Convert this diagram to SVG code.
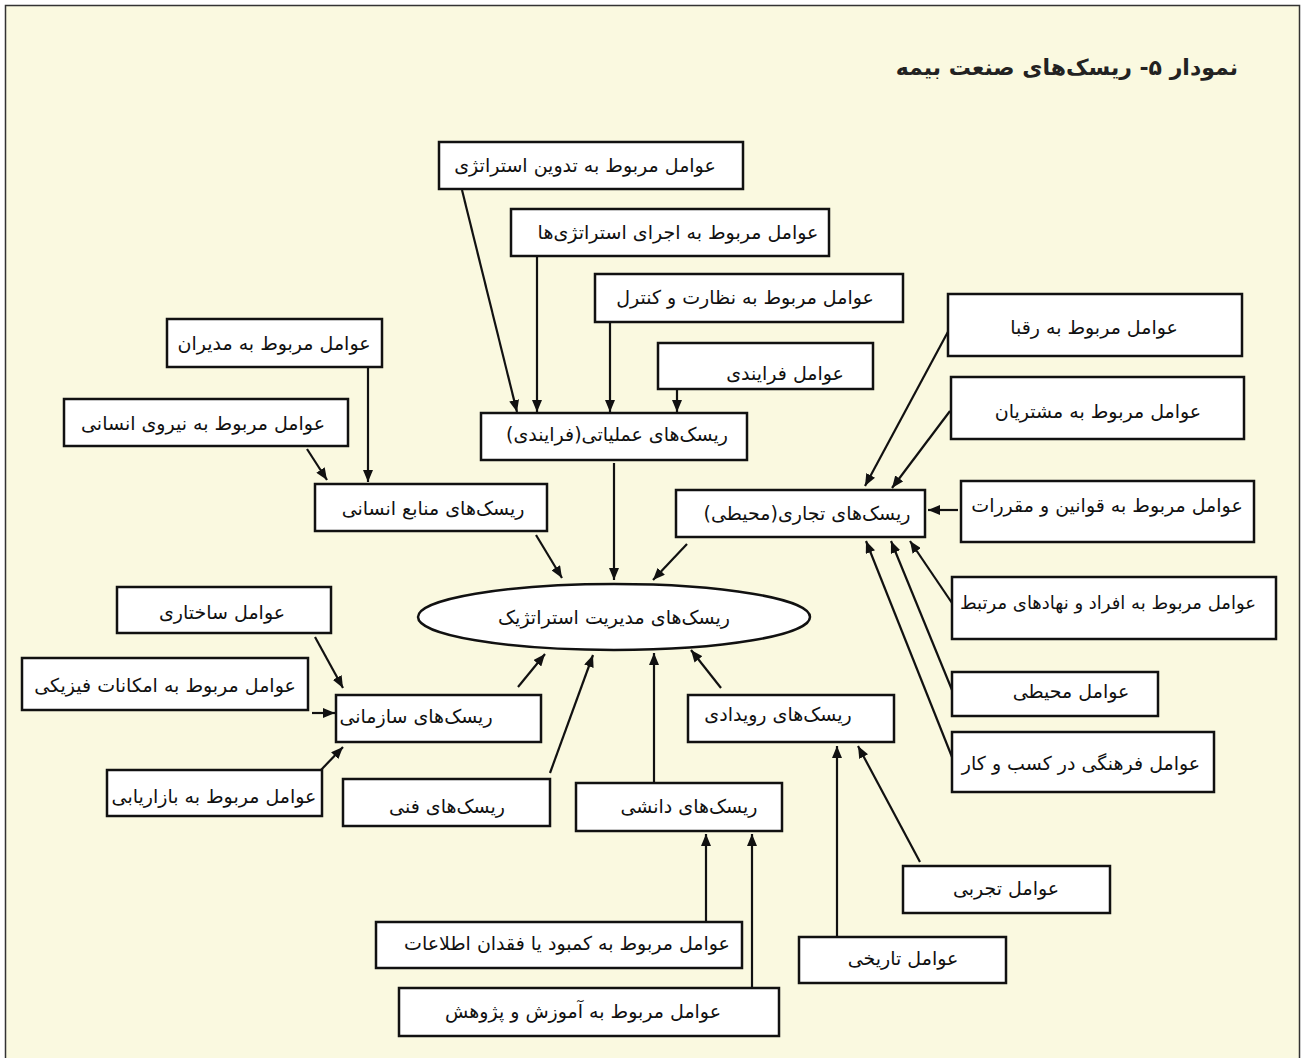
<svg xmlns="http://www.w3.org/2000/svg" width="1301" height="1058" viewBox="0 0 1301 1058">
<defs>
<marker id="ah" viewBox="0 0 12 10" refX="12" refY="5" markerWidth="12" markerHeight="10" orient="auto" markerUnits="userSpaceOnUse">
<path d="M0,0 L12,5 L0,10 z" fill="#111"/>
</marker>
<style>
.box{fill:#fff;stroke:#111;stroke-width:2.5}
.t{font-family:"DejaVu Sans",sans-serif;font-size:19px;fill:#111;text-anchor:middle;dominant-baseline:central;direction:rtl}
.title{font-family:"DejaVu Sans",sans-serif;font-size:22px;font-weight:bold;fill:#222;text-anchor:start;direction:rtl}
.c line{stroke:#111;stroke-width:2.2;marker-end:url(#ah)}
</style>
</defs>
<rect x="0" y="0" width="1301" height="1058" fill="#fff"/>
<rect x="5.5" y="5.5" width="1294" height="1060" fill="#FAF9E0" stroke="#333" stroke-width="1.5"/>
<text class="title" x="1238" y="75">نمودار ۵- ریسک‌های صنعت بیمه</text>

<g class="c" id="connectors">
<line x1="462" y1="190" x2="517" y2="412"/>
<line x1="537" y1="256" x2="537" y2="412"/>
<line x1="610" y1="322" x2="610" y2="412"/>
<line x1="677" y1="389" x2="677" y2="412"/>
<line x1="368" y1="367" x2="368" y2="482"/>
<line x1="307" y1="449" x2="327" y2="480"/>
<line x1="536" y1="535" x2="562" y2="578"/>
<line x1="614" y1="463" x2="614" y2="580"/>
<line x1="687" y1="544" x2="653" y2="580"/>
<line x1="950" y1="328" x2="865" y2="486"/>
<line x1="950" y1="411" x2="892" y2="488"/>
<line x1="958" y1="510" x2="928" y2="510"/>
<line x1="952" y1="603" x2="910" y2="541"/>
<line x1="952" y1="690" x2="891" y2="541"/>
<line x1="952" y1="757" x2="866" y2="541"/>
<line x1="315" y1="637" x2="343" y2="688"/>
<line x1="312" y1="713" x2="335" y2="713"/>
<line x1="320" y1="771" x2="343" y2="747"/>
<line x1="518" y1="687" x2="545" y2="654"/>
<line x1="550" y1="773" x2="593" y2="655"/>
<line x1="654" y1="782" x2="654" y2="653"/>
<line x1="721" y1="688" x2="691" y2="650"/>
<line x1="706" y1="922" x2="706" y2="834"/>
<line x1="752" y1="988" x2="752" y2="834"/>
<line x1="837" y1="937" x2="837" y2="746"/>
<line x1="920" y1="862" x2="858" y2="746"/>
</g>

<g id="n-tadvin"><rect class="box" x="439" y="142" width="304" height="47"/><text class="t" x="585" y="165">عوامل مربوط به تدوین استراتژی</text></g>
<g id="n-ejra"><rect class="box" x="511" y="209" width="318" height="47"/><text class="t" x="678" y="232">عوامل مربوط به اجرای استراتژی‌ها</text></g>
<g id="n-nezarat"><rect class="box" x="595" y="274" width="308" height="48"/><text class="t" x="745" y="297">عوامل مربوط به نظارت و کنترل</text></g>
<g id="n-farayandi"><rect class="box" x="658" y="343" width="215" height="46"/><text class="t" x="785" y="373">عوامل فرایندی</text></g>
<g id="n-amaliyati"><rect class="box" x="481" y="413" width="266" height="47"/><text class="t" x="617" y="434">ریسک‌های عملیاتی(فرایندی)</text></g>
<g id="n-modiran"><rect class="box" x="167" y="319" width="215" height="48"/><text class="t" x="274" y="343">عوامل مربوط به مدیران</text></g>
<g id="n-niroo"><rect class="box" x="64" y="399" width="284" height="47"/><text class="t" x="203" y="423">عوامل مربوط به نیروی انسانی</text></g>
<g id="n-manabe"><rect class="box" x="315" y="484" width="232" height="47"/><text class="t" x="433" y="508">ریسک‌های منابع انسانی</text></g>
<g id="n-strategic"><ellipse cx="614" cy="617" rx="196" ry="33" fill="#fff" stroke="#111" stroke-width="2.5"/><text class="t" x="614" y="617">ریسک‌های مدیریت استراتژیک</text></g>
<g id="n-tejari"><rect class="box" x="676" y="490" width="249" height="47"/><text class="t" x="807" y="513">ریسک‌های تجاری(محیطی)</text></g>
<g id="n-roqaba"><rect class="box" x="948" y="294" width="294" height="62"/><text class="t" x="1094" y="327">عوامل مربوط به رقبا</text></g>
<g id="n-moshtarian"><rect class="box" x="951" y="377" width="293" height="62"/><text class="t" x="1098" y="411">عوامل مربوط به مشتریان</text></g>
<g id="n-qavanin"><rect class="box" x="961" y="481" width="293" height="61"/><text class="t" x="1107" y="505">عوامل مربوط به قوانین و مقررات</text></g>
<g id="n-afrad"><rect class="box" x="952" y="577" width="324" height="62"/><text class="t" x="1108" y="602" style="font-size:18px">عوامل مربوط به افراد و نهادهای مرتبط</text></g>
<g id="n-mohiti"><rect class="box" x="952" y="672" width="206" height="44"/><text class="t" x="1071" y="691">عوامل محیطی</text></g>
<g id="n-farhangi"><rect class="box" x="952" y="732" width="262" height="60"/><text class="t" x="1081" y="763">عوامل فرهنگی در کسب و کار</text></g>
<g id="n-sakhtari"><rect class="box" x="117" y="587" width="214" height="46"/><text class="t" x="222" y="612">عوامل ساختاری</text></g>
<g id="n-emkanat"><rect class="box" x="22" y="658" width="286" height="52"/><text class="t" x="165" y="685">عوامل مربوط به امکانات فیزیکی</text></g>
<g id="n-sazmani"><rect class="box" x="336" y="695" width="205" height="47"/><text class="t" x="416" y="716">ریسک‌های سازمانی</text></g>
<g id="n-bazaryabi"><rect class="box" x="107" y="770" width="215" height="46"/><text class="t" x="214" y="796">عوامل مربوط به بازاریابی</text></g>
<g id="n-fanni"><rect class="box" x="343" y="779" width="207" height="47"/><text class="t" x="447" y="806">ریسک‌های فنی</text></g>
<g id="n-daneshi"><rect class="box" x="576" y="783" width="206" height="48"/><text class="t" x="689" y="806">ریسک‌های دانشی</text></g>
<g id="n-rooydadi"><rect class="box" x="688" y="695" width="206" height="47"/><text class="t" x="778" y="714">ریسک‌های رویدادی</text></g>
<g id="n-kambood"><rect class="box" x="376" y="922" width="366" height="46"/><text class="t" x="567" y="943">عوامل مربوط به کمبود یا فقدان اطلاعات</text></g>
<g id="n-amoozesh"><rect class="box" x="399" y="988" width="380" height="48"/><text class="t" x="583" y="1011">عوامل مربوط به آموزش و پژوهش</text></g>
<g id="n-tajrobi"><rect class="box" x="903" y="866" width="207" height="47"/><text class="t" x="1006" y="888">عوامل تجربی</text></g>
<g id="n-tarikhi"><rect class="box" x="799" y="937" width="207" height="46"/><text class="t" x="903" y="958">عوامل تاریخی</text></g>
</svg>
